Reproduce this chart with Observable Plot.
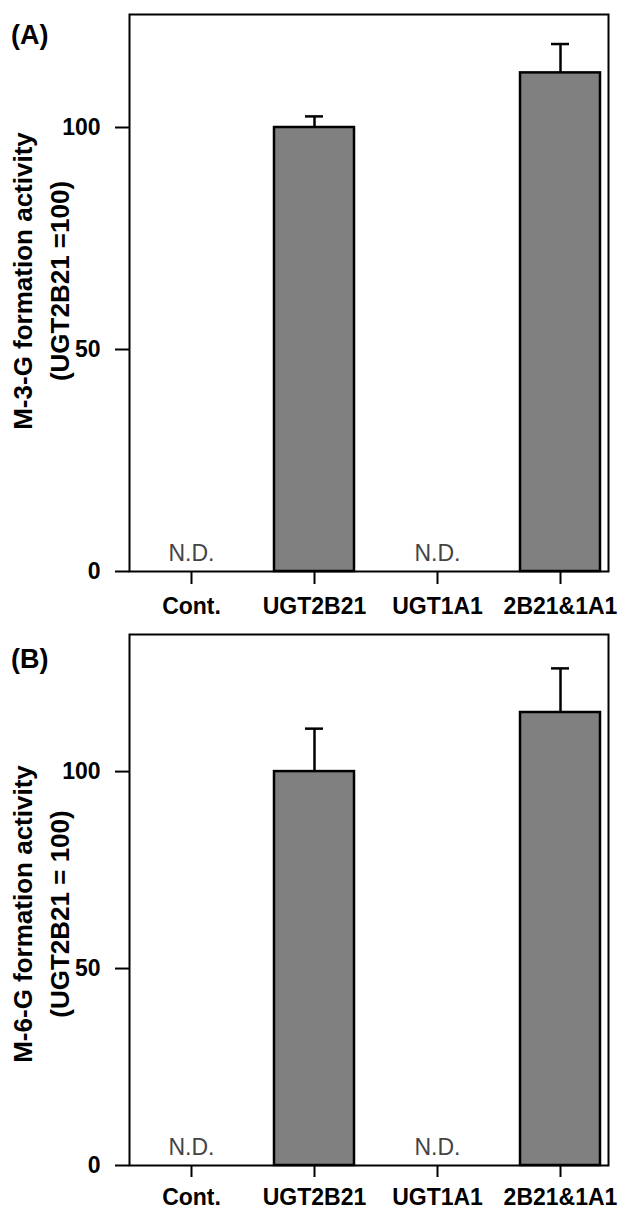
<!DOCTYPE html>
<html><head><meta charset="utf-8">
<script src="https://cdn.jsdelivr.net/npm/d3@7"></script>
<script src="https://cdn.jsdelivr.net/npm/@observablehq/plot@0.6"></script>
<style>
body{margin:0;background:#fff;}
#wrap{position:relative;width:625px;height:1210px;font-family:"Liberation Sans",Arial,sans-serif;}
.panel{position:absolute;left:0;}
.tag{position:absolute;left:11px;font-weight:bold;font-size:27px;line-height:1;color:#000;}
</style></head><body>
<div id="wrap">
<div class="panel" id="pa" style="top:0"></div>
<div class="panel" id="pb" style="top:620px"></div>
<div class="tag" style="top:22px">(A)</div>
<div class="tag" style="top:646px">(B)</div>
</div>
<script>
const categories = ["Cont.", "UGT2B21", "UGT1A1", "2B21&1A1"];
const detected = [false, true, false, true];
const m3gMean = [null, 100, null, 112.3];
const m3gSD = [null, 2.5, null, 6.5];
const m6gMean = [null, 100, null, 115];
const m6gSD = [null, 10.9, null, 11.2];
const yTicks = [0, 50, 100];
const ndText = "N.D.";
const titleA = "M-3-G formation activity\n(UGT2B21 =100)";
const titleB = "M-6-G formation activity\n(UGT2B21 = 100)";

function panel(means, sds, yMax, height, marginTop, marginBottom, title, titleDy, xTickSize, xTickPad) {
  const rows = categories.map((c, i) => ({cat: c, mean: means[i], sd: sds[i], det: detected[i]}));
  const det = rows.filter(d => d.det);
  const nd = rows.filter(d => !d.det);
  return Plot.plot({
    width: 625, height, marginLeft: 129, marginRight: 17, marginTop, marginBottom,
    style: {fontFamily: "'Liberation Sans', Arial, sans-serif", background: "transparent", color: "#000"},
    x: {domain: categories, range: [128.35, 621.65], paddingInner: 0.35, paddingOuter: 0.175, align: 0.5},
    y: {domain: [0, yMax]},
    marks: [
      Plot.barY(det, {x: "cat", y: "mean", fill: "#808080", stroke: "#000", strokeWidth: 2.5}),
      Plot.ruleX(det, {x: "cat", y1: "mean", y2: d => d.mean + d.sd, stroke: "#000", strokeWidth: 2.5}),
      Plot.tickY(det, {x: "cat", y: d => d.mean + d.sd, insetLeft: 31, insetRight: 31, stroke: "#000", strokeWidth: 2.5}),
      Plot.text(nd, {x: "cat", y: 0, text: () => ndText, dy: -18, fontSize: 23, fill: "#444"}),
      Plot.frame({stroke: "#000", strokeWidth: 2}),
      Plot.axisY({ticks: yTicks, tickSize: 14, tickPadding: 15, stroke: "#000", strokeWidth: 2, fontSize: 23, fontWeight: "bold", label: null}),
      Plot.axisX({tickSize: xTickSize, tickPadding: xTickPad, stroke: "#000", strokeWidth: 2, fontSize: 23, fontWeight: "bold", label: null}),
      Plot.text([title], {frameAnchor: "left", textAnchor: "middle", rotate: -90, dx: -91, dy: titleDy, fontSize: 26, fontWeight: "bold", lineHeight: 1.45, fill: "#000"})
    ]
  });
}

document.getElementById("pa").append(panel(m3gMean, m3gSD, 125.45, 620, 14, 49, titleA, -12, 13, 13));
document.getElementById("pb").append(panel(m6gMean, m6gSD, 134.8, 590, 14, 45, titleB, 14, 12, 11));
</script>
</body></html>
